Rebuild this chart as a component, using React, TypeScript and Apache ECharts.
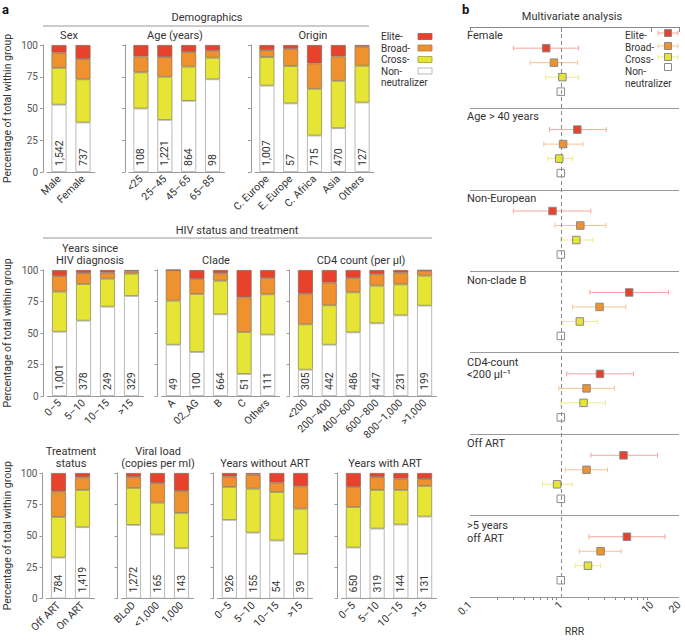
import React, { useEffect, useRef } from "react";
import * as echarts from "echarts";

// ---------------- Panel a data (percentages within group) ----------------
const sexCategories = ["Male", "Female"];
const sexNon = [53, 39];
const sexCross = [29, 34];
const sexBroad = [12, 16];
const sexElite = [6, 11];
const sexCounts = ["1,542", "737"];

const ageCategories = ["<25", "25–45", "45–65", "65–85"];
const ageNon = [50, 41, 56, 73];
const ageCross = [28.5, 34, 27, 17];
const ageBroad = [12.5, 15.5, 11.5, 5.5];
const ageElite = [9, 9.5, 5.5, 4.5];
const ageCounts = ["108", "1,221", "864", "98"];

const originCategories = ["C. Europe", "E. Europe", "C. Africa", "Asia", "Others"];
const originNon = [68, 54, 28.7, 34.5, 54.7];
const originCross = [22.5, 29.5, 36.8, 37.3, 29];
const originBroad = [5.5, 13.5, 20, 19.2, 15];
const originElite = [4, 3, 14.5, 9, 1.3];
const originCounts = ["1,007", "57", "715", "470", "127"];

const diagCategories = ["0–5", "5–10", "10–15", ">15"];
const diagNon = [51, 59.8, 70.9, 79.4];
const diagCross = [31.8, 29.1, 22.2, 17.7];
const diagBroad = [12.4, 8.7, 4.8, 1.8];
const diagElite = [4.8, 2.4, 2.1, 1.1];
const diagCounts = ["1,001", "378", "249", "329"];

const cladeCategories = ["A", "02_AG", "B", "C", "Others"];
const cladeNon = [40.7, 34.9, 64.8, 17.5, 48.7];
const cladeCross = [35, 46.1, 26.7, 33.3, 32];
const cladeBroad = [24.3, 11.9, 5.9, 27.5, 13];
const cladeElite = [0, 7.1, 2.6, 21.7, 6.3];
const cladeCounts = ["49", "100", "664", "51", "111"];

const cd4Categories = ["<200", "200–400", "400–600", "600–800", "800–1,000", ">1,000"];
const cd4Non = [20.9, 40.7, 50.5, 57.7, 64, 71.7];
const cd4Cross = [36, 31.3, 31.8, 29.9, 24.6, 23.8];
const cd4Broad = [24.3, 18, 11.4, 9.2, 9.3, 4];
const cd4Elite = [18.8, 10, 6.3, 3.2, 2.1, 0.5];
const cd4Counts = ["305", "442", "486", "447", "231", "199"];

const treatCategories = ["Off ART", "On ART"];
const treatNon = [32.6, 56.8];
const treatCross = [32.4, 29.7];
const treatBroad = [20.4, 10.1];
const treatElite = [14.6, 3.4];
const treatCounts = ["784", "1,419"];

const viralCategories = ["BLoD", "<1,000", "1,000"];
const viralNon = [58.6, 50.9, 40];
const viralCross = [29.5, 25.5, 28.2];
const viralBroad = [8.7, 15.6, 17.5];
const viralElite = [3.2, 8, 14.3];
const viralCounts = ["1,272", "165", "143"];

const woArtCategories = ["0–5", "5–10", "10–15", ">15"];
const woArtNon = [62.6, 52.5, 46.2, 35.5];
const woArtCross = [26.3, 35, 38.7, 36.1];
const woArtBroad = [8.2, 11.2, 7.4, 17.8];
const woArtElite = [2.9, 1.3, 7.7, 10.6];
const woArtCounts = ["926", "155", "54", "39"];

const wArtCategories = ["0–5", "5–10", "10–15", ">15"];
const wArtNon = [40.6, 55.7, 58.9, 65.3];
const wArtCross = [32.3, 30.8, 27.6, 24.4];
const wArtBroad = [16, 10.3, 9, 5.5];
const wArtElite = [11.1, 3.2, 4.5, 4.8];
const wArtCounts = ["650", "319", "144", "131"];

const yTicks = [0, 25, 50, 75, 100];

// ---------------- Panel b data (relative risk ratios) ----------------
const forestGroups = ["Female", "Age > 40 years", "Non-European", "Non-clade B", "CD4-count\n<200 µl⁻¹", "Off ART", ">5 years\noff ART"];
const eliteRRR = [0.69, 1.52, 0.81, 5.66, 2.7, 4.9, 5.34];
const eliteLow = [0.3, 0.75, 0.3, 2.09, 1.16, 2.14, 2.04];
const eliteHigh = [1.57, 3.16, 2.14, 15.3, 6.3, 11.6, 14.0];
const broadRRR = [0.84, 1.06, 1.64, 2.67, 1.92, 1.92, 2.74];
const broadLow = [0.46, 0.65, 0.86, 1.35, 0.95, 1.12, 1.6];
const broadHigh = [1.53, 1.75, 3.13, 5.2, 3.9, 3.27, 4.62];
const crossRRR = [1.04, 0.96, 1.48, 1.62, 1.78, 0.91, 1.99];
const crossLow = [0.68, 0.72, 1.0, 1.05, 1.0, 0.63, 1.44];
const crossHigh = [1.56, 1.35, 2.24, 2.54, 3.1, 1.33, 2.74];
const nonRRR = [1, 1, 1, 1, 1, 1, 1];
const rrrMajorTicks = [0.1, 1, 10, 20];
const rrrMinorTicks = [0.2, 0.3, 0.4, 0.5, 0.6, 0.7, 0.8, 0.9, 2, 3, 4, 5, 6, 7, 8, 9];
const rrrTickLabels = ["0.1", "1", "10", "20"];

const legendNames = ["Elite-", "Broad-", "Cross-", "Non-"];

// ---------------- styling / layout ----------------
const FONT = "Roboto, 'Noto Sans', 'DejaVu Sans', sans-serif";
const C_ELITE = "#E8412C";
const C_BROAD = "#F0912F";
const C_CROSS = "#E6E434";
const C_NON = "#FFFFFF";
const CI_ELITE = "#F4A79E";
const CI_BROAD = "#F6C590";
const CI_CROSS = "#EFEB86";
const TXT = "#333";

const GROUPS = [
  { title: "Sex", cats: sexCategories, non: sexNon, cross: sexCross, broad: sexBroad, elite: sexElite, counts: sexCounts },
  { title: "Age (years)", cats: ageCategories, non: ageNon, cross: ageCross, broad: ageBroad, elite: ageElite, counts: ageCounts },
  { title: "Origin", cats: originCategories, non: originNon, cross: originCross, broad: originBroad, elite: originElite, counts: originCounts },
  { title: "Years since\nHIV diagnosis", cats: diagCategories, non: diagNon, cross: diagCross, broad: diagBroad, elite: diagElite, counts: diagCounts },
  { title: "Clade", cats: cladeCategories, non: cladeNon, cross: cladeCross, broad: cladeBroad, elite: cladeElite, counts: cladeCounts },
  { title: "CD4 count (per µl)", cats: cd4Categories, non: cd4Non, cross: cd4Cross, broad: cd4Broad, elite: cd4Elite, counts: cd4Counts },
  { title: "Treatment\nstatus", cats: treatCategories, non: treatNon, cross: treatCross, broad: treatBroad, elite: treatElite, counts: treatCounts },
  { title: "Viral load\n(copies per ml)", cats: viralCategories, non: viralNon, cross: viralCross, broad: viralBroad, elite: viralElite, counts: viralCounts },
  { title: "Years without ART", cats: woArtCategories, non: woArtNon, cross: woArtCross, broad: woArtBroad, elite: woArtElite, counts: woArtCounts },
  { title: "Years with ART", cats: wArtCategories, non: wArtNon, cross: wArtCross, broad: wArtBroad, elite: wArtElite, counts: wArtCounts },
];

const ROWS = [
  { top: 45, height: 127, titleBottom: 41 },
  { top: 270, height: 126, titleBottom: 266 },
  { top: 473, height: 125.5, titleBottom: 469 },
];

const LAYOUT = [
  { left: 47, width: 48, row: 0, titleX: 69, first: true },
  { left: 129, width: 95.5, row: 0, titleX: 175, first: false },
  { left: 255, width: 119, row: 0, titleX: 313, first: false },
  { left: 47.5, width: 96, row: 1, titleX: 90, first: true },
  { left: 161.5, width: 118, row: 1, titleX: 216, first: false },
  { left: 293.5, width: 143, row: 1, titleX: 361, first: false },
  { left: 46.5, width: 48, row: 2, titleX: 71, first: true },
  { left: 121.5, width: 72, row: 2, titleX: 158, first: false },
  { left: 217.5, width: 95, row: 2, titleX: 265, first: false },
  { left: 341.5, width: 95, row: 2, titleX: 385, first: false },
];

const FOREST = { left: 470, top: 27, width: 209, height: 572 };
const ROW_OFF = 0.26;
const ROW_STEP = 0.178;

function txt(text: string, x: number, y: number, opts: any = {}) {
  return {
    type: "text",
    x,
    y,
    rotation: opts.rotation || 0,
    style: {
      text,
      fontFamily: FONT,
      fontSize: opts.size || 10.5,
      fontWeight: opts.weight || "normal",
      fill: opts.color || TXT,
      align: opts.align || "left",
      verticalAlign: opts.va || "middle",
      lineHeight: opts.lh || 11.5,
    },
    silent: true,
  };
}

function buildOption() {
  const grid: any[] = [];
  const xAxis: any[] = [];
  const yAxis: any[] = [];
  const series: any[] = [];
  const graphic: any[] = [];

  GROUPS.forEach((g, i) => {
    const L = LAYOUT[i];
    const R = ROWS[L.row];
    grid.push({ left: L.left, top: R.top, width: L.width, height: R.height, containLabel: false });
    xAxis.push({
      type: "category",
      gridIndex: i,
      data: g.cats,
      axisLine: { lineStyle: { color: "#9a9a9a", width: 1 } },
      axisTick: { alignWithLabel: true, length: 4, lineStyle: { color: "#9a9a9a" } },
      axisLabel: { interval: 0, rotate: 45, fontSize: 10.5, color: TXT, margin: 5, fontFamily: FONT },
    });
    yAxis.push({
      type: "value",
      gridIndex: i,
      min: 0,
      max: 100,
      interval: 25,
      offset: 4,
      axisLine: { show: true, lineStyle: { color: "#9a9a9a", width: 1 } },
      axisTick: { show: true, length: 3, lineStyle: { color: "#9a9a9a" } },
      axisLabel: { show: L.first, fontSize: 10, color: "#555", margin: 5, fontFamily: FONT, customValues: yTicks },
      splitLine: { show: false },
    });
    const parts: any[] = [
      [g.non, C_NON, "Non-neutralizer", "#a8a8a8"],
      [g.cross, C_CROSS, "Cross-", "#8f8d5a"],
      [g.broad, C_BROAD, "Broad-", "#8f7a5a"],
      [g.elite, C_ELITE, "Elite-", "#8f6a5a"],
    ];
    parts.forEach(([vals, color, name, border], k) => {
      series.push({
        type: "bar",
        name,
        xAxisIndex: i,
        yAxisIndex: i,
        stack: "s" + i,
        data: vals,
        barWidth: 15,
        itemStyle: { color, borderColor: border, borderWidth: 0.8 },
        label:
          k === 0
            ? {
                show: true,
                position: "insideBottom",
                rotate: 90,
                align: "left",
                verticalAlign: "middle",
                distance: 6,
                fontSize: 10.5,
                color: TXT,
                fontFamily: FONT,
                formatter: (p: any) => g.counts[p.dataIndex],
              }
            : { show: false },
      });
    });
    graphic.push(txt(g.title, L.titleX, R.titleBottom, { align: "center", va: "bottom", size: 11 }));
  });

  // y axis titles for each row
  ROWS.forEach((R) => {
    graphic.push(
      txt("Percentage of total within group", 7, R.top + R.height / 2, {
        align: "center",
        rotation: Math.PI / 2,
        size: 10.5,
      })
    );
  });

  // section headers
  graphic.push(txt("a", 2, 9, { size: 13, weight: "bold", color: "#111" }));
  graphic.push(txt("b", 462, 9, { size: 13, weight: "bold", color: "#111" }));
  graphic.push(txt("Demographics", 207, 17, { align: "center", size: 11 }));
  graphic.push({ type: "line", shape: { x1: 43, y1: 26, x2: 369, y2: 26 }, style: { stroke: "#999", lineWidth: 1 }, silent: true });
  graphic.push(txt("HIV status and treatment", 237, 230, { align: "center", size: 11 }));
  graphic.push({ type: "line", shape: { x1: 43, y1: 238, x2: 432, y2: 238 }, style: { stroke: "#999", lineWidth: 1 }, silent: true });

  // panel a legend
  const legColors = [C_ELITE, C_BROAD, C_CROSS, C_NON];
  const legBorders = ["#b05040", "#b07840", "#a0a040", "#aaa"];
  [36.5, 48, 59.5, 71].forEach((y, k) => {
    graphic.push(txt(legendNames[k], 381, y, { size: 10, lh: 10 }));
    graphic.push({
      type: "rect",
      shape: { x: 418, y: y - 3, width: 14, height: 6 },
      style: { fill: legColors[k], stroke: legBorders[k], lineWidth: 0.8 },
      silent: true,
    });
  });
  graphic.push(txt("neutralizer", 381, 82.5, { size: 10, lh: 10 }));

  // ---------------- Panel b: forest plot ----------------
  const F = GROUPS.length;
  grid.push({ left: FOREST.left, top: FOREST.top, width: FOREST.width, height: FOREST.height, containLabel: false });
  xAxis.push({
    type: "log",
    logBase: 10,
    gridIndex: F,
    min: 0.1,
    max: 20,
    name: "RRR",
    nameLocation: "middle",
    nameGap: 29,
    nameTextStyle: { fontSize: 10.5, color: TXT, fontFamily: FONT },
    axisLine: { show: true, lineStyle: { color: "#888", width: 1 } },
    axisTick: { show: true, length: 5, lineStyle: { color: "#888" }, customValues: rrrMajorTicks },
    axisLabel: {
      show: true,
      rotate: 45,
      fontSize: 10.5,
      color: TXT,
      margin: 6,
      fontFamily: FONT,
      customValues: rrrMajorTicks,
      formatter: (v: number) => {
        const idx = rrrMajorTicks.findIndex((t) => Math.abs(t - v) / t < 1e-6);
        return idx >= 0 ? rrrTickLabels[idx] : "";
      },
    },
    splitLine: { show: false },
  });
  xAxis.push({
    type: "log",
    logBase: 10,
    gridIndex: F,
    min: 0.1,
    max: 20,
    position: "bottom",
    axisLine: { show: false },
    axisTick: { show: true, length: 3, lineStyle: { color: "#888" }, customValues: rrrMinorTicks },
    axisLabel: { show: false },
    splitLine: { show: false },
  });
  yAxis.push({
    type: "value",
    gridIndex: F,
    min: 0,
    max: forestGroups.length,
    interval: 1,
    inverse: true,
    axisLine: { show: false },
    axisTick: { show: false },
    axisLabel: { show: false },
    splitLine: { show: true, lineStyle: { color: "#999", width: 1 } },
  });

  const classes: any[] = [
    { name: "Elite-", pts: eliteRRR, lo: eliteLow, hi: eliteHigh, color: C_ELITE, ci: CI_ELITE },
    { name: "Broad-", pts: broadRRR, lo: broadLow, hi: broadHigh, color: C_BROAD, ci: CI_BROAD },
    { name: "Cross-", pts: crossRRR, lo: crossLow, hi: crossHigh, color: C_CROSS, ci: CI_CROSS },
    { name: "Non-neutralizer", pts: nonRRR, lo: null, hi: null, color: "rgba(255,255,255,0)", ci: null },
  ];

  // dashed reference line at RRR = 1
  series.push({
    type: "scatter",
    xAxisIndex: F,
    yAxisIndex: F,
    data: [],
    silent: true,
    markLine: {
      silent: true,
      symbol: ["none", "none"],
      label: { show: false },
      lineStyle: { color: "#8a8a8a", type: [4, 3], width: 1 },
      data: [{ xAxis: 1 }],
    },
  });

  classes.forEach((c, r) => {
    if (c.lo) {
      series.push({
        type: "custom",
        name: c.name + " CI",
        xAxisIndex: F,
        yAxisIndex: F,
        silent: true,
        z: 3,
        encode: { x: [0, 1], y: 2 },
        data: c.lo.map((lo: number, g: number) => [lo, c.hi[g], g + ROW_OFF + r * ROW_STEP]),
        renderItem: (params: any, api: any) => {
          const a = api.coord([api.value(0), api.value(2)]);
          const b = api.coord([api.value(1), api.value(2)]);
          const st = { stroke: c.ci, lineWidth: 1 };
          return {
            type: "group",
            children: [
              { type: "line", shape: { x1: a[0], y1: a[1], x2: b[0], y2: b[1] }, style: st },
              { type: "line", shape: { x1: a[0], y1: a[1] - 2.5, x2: a[0], y2: a[1] + 2.5 }, style: st },
              { type: "line", shape: { x1: b[0], y1: b[1] - 2.5, x2: b[0], y2: b[1] + 2.5 }, style: st },
            ],
          };
        },
      });
    }
    series.push({
      type: "scatter",
      name: c.name,
      xAxisIndex: F,
      yAxisIndex: F,
      symbol: "rect",
      symbolSize: 7.5,
      z: 5,
      silent: true,
      itemStyle: { color: c.color, borderColor: "#8a8a8a", borderWidth: 1, opacity: 1 },
      data: c.pts.map((v: number, g: number) => [v, g + ROW_OFF + r * ROW_STEP]),
    });
  });

  // forest group titles
  const unit = FOREST.height / forestGroups.length;
  forestGroups.forEach((name, g) => {
    graphic.push(txt(name, 467, FOREST.top + g * unit + 2, { va: "top", size: 11, lh: 12.5 }));
  });
  graphic.push(txt("Multivariate analysis", 572, 16, { align: "center", size: 11 }));

  // forest legend
  const fl: any[] = [
    [C_ELITE, CI_ELITE, 33],
    [C_BROAD, CI_BROAD, 46],
    [C_CROSS, CI_CROSS, 57],
    ["#fff", null, 67],
  ];
  [35, 47, 59, 71].forEach((y, k) => graphic.push(txt(legendNames[k], 625, y, { size: 10, lh: 10 })));
  graphic.push(txt("neutralizer", 625, 83, { size: 10, lh: 10 }));
  fl.forEach(([col, ci, y]) => {
    if (ci) {
      graphic.push({ type: "line", shape: { x1: 658, y1: y, x2: 678, y2: y }, style: { stroke: ci, lineWidth: 1 }, silent: true });
      graphic.push({ type: "line", shape: { x1: 658, y1: y - 2.5, x2: 658, y2: y + 2.5 }, style: { stroke: ci, lineWidth: 1 }, silent: true });
      graphic.push({ type: "line", shape: { x1: 678, y1: y - 2.5, x2: 678, y2: y + 2.5 }, style: { stroke: ci, lineWidth: 1 }, silent: true });
    }
    graphic.push({
      type: "rect",
      shape: { x: 664.5, y: y - 3.5, width: 7, height: 7 },
      style: { fill: col, stroke: "#8a8a8a", lineWidth: 1 },
      silent: true,
      z: 10,
    });
  });

  return {
    animation: false,
    backgroundColor: "#fff",
    textStyle: { fontFamily: FONT },
    grid,
    xAxis,
    yAxis,
    series,
    graphic,
  };
}

export default function App() {
  const ref = useRef<HTMLDivElement>(null);
  useEffect(() => {
    if (!ref.current) return;
    const chart = echarts.init(ref.current, null, { renderer: "svg" });
    chart.setOption(buildOption() as any);
    return () => chart.dispose();
  }, []);
  return <div ref={ref} style={{ position: "absolute", left: 0, top: 0, width: 685, height: 642 }} />;
}
